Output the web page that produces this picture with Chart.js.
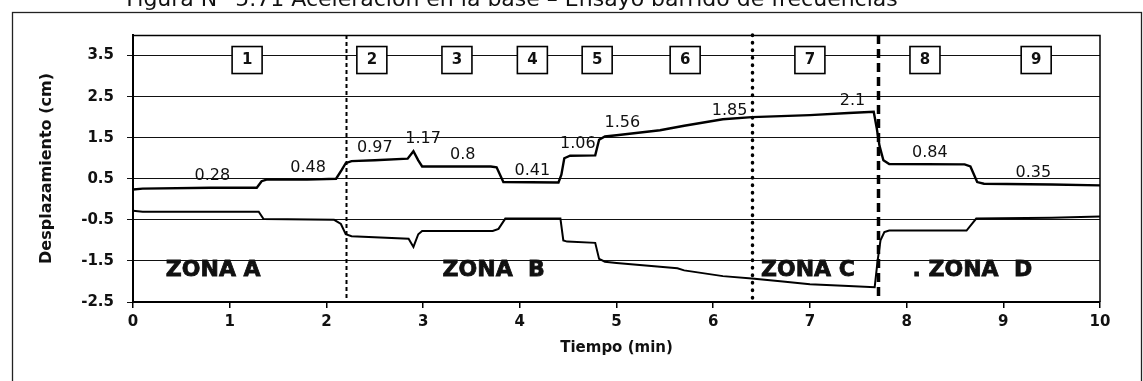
<!DOCTYPE html>
<html lang="es">
<head>
<meta charset="utf-8">
<title>Aceleración en la base – Ensayo barrido de frecuencias</title>
<script src="https://cdn.jsdelivr.net/npm/chart.js@4.4.1/dist/chart.umd.min.js"></script>
<style>
  html, body { margin: 0; padding: 0; background: #fff; }
  canvas { display: block; }
</style>
</head>
<body>
<canvas id="barrido" width="1143" height="381"></canvas>
<script>
const titulo = 'Figura N° 5.71 Aceleración en la base – Ensayo barrido de frecuencias';

// envolvente superior: tiempo (min) / desplazamiento (cm)
const tSup = [0, 0.1, 0.8, 1.28, 1.33, 1.38, 1.8, 2.1, 2.16, 2.2, 2.26, 2.5, 2.84, 2.9, 2.95, 2.99, 3.7, 3.76, 3.83, 4.4, 4.43, 4.46, 4.52, 4.78, 4.82, 4.88, 5.0, 5.45, 5.7, 6.1, 6.4, 7.0, 7.4, 7.66, 7.69, 7.72, 7.76, 7.82, 8.6, 8.66, 8.73, 8.8, 9.5, 10];
const dSup = [0.24, 0.26, 0.28, 0.28, 0.44, 0.48, 0.48, 0.5, 0.72, 0.88, 0.93, 0.95, 0.99, 1.17, 0.95, 0.8, 0.8, 0.78, 0.42, 0.41, 0.6, 1.0, 1.06, 1.07, 1.45, 1.53, 1.56, 1.68, 1.79, 1.95, 2.0, 2.05, 2.1, 2.13, 1.75, 1.3, 0.95, 0.86, 0.85, 0.8, 0.42, 0.38, 0.36, 0.34];

// envolvente inferior
const tInf = [0, 0.1, 1.3, 1.35, 2.08, 2.15, 2.2, 2.26, 2.85, 2.9, 2.95, 2.99, 3.72, 3.78, 3.85, 4.42, 4.45, 4.49, 4.78, 4.82, 4.88, 5.0, 5.63, 5.7, 6.1, 6.4, 6.72, 7.0, 7.4, 7.67, 7.7, 7.73, 7.77, 7.82, 8.62, 8.72, 9.5, 10];
const dInf = [-0.28, -0.3, -0.3, -0.48, -0.5, -0.6, -0.85, -0.9, -0.96, -1.16, -0.85, -0.77, -0.77, -0.72, -0.47, -0.47, -1.0, -1.03, -1.06, -1.45, -1.52, -1.55, -1.68, -1.73, -1.87, -1.93, -2.0, -2.07, -2.11, -2.14, -1.5, -1.0, -0.8, -0.76, -0.76, -0.47, -0.45, -0.42];

const yTicks = [-2.5, -1.5, -0.5, 0.5, 1.5, 2.5, 3.5];
const xTicks = [0, 1, 2, 3, 4, 5, 6, 7, 8, 9, 10];

// amplitudes anotadas sobre la curva
const etiquetaT = [0.82, 1.81, 2.5, 3.0, 3.41, 4.13, 4.6, 5.06, 6.17, 7.44, 8.24, 9.31];
const etiquetaV = [0.28, 0.48, 0.97, 1.17, 0.8, 0.41, 1.06, 1.56, 1.85, 2.1, 0.84, 0.35];

// tramos del ensayo
const tramos = ['1', '2', '3', '4', '5', '6', '7', '8', '9'];
const tramoT = [1.18, 2.47, 3.35, 4.13, 4.8, 5.71, 7.0, 8.19, 9.34];

// límites entre zonas
const limiteT = [2.2, 6.4, 7.7];
const zonas = ['ZONA A', 'ZONA  B', 'ZONA C', '. ZONA  D'];
const zonaT = [0.83, 3.73, 6.98, 8.68];
const zonaV = -1.72;

const puntos = (t, d) => t.map((v, i) => ({ x: v, y: d[i] }));
const FUENTE = '"DejaVu Sans", sans-serif';

const anotaciones = {
  id: 'anotaciones',
  beforeDraw(chart) {
    const ctx = chart.ctx;
    ctx.save();
    ctx.fillStyle = '#fff';
    ctx.fillRect(0, 0, chart.width, chart.height);
    ctx.strokeStyle = '#222';
    ctx.lineWidth = 1.3;
    ctx.strokeRect(12.5, 12.5, chart.width - 14, chart.height + 20);
    ctx.fillStyle = '#111';
    ctx.font = '22px ' + FUENTE;
    ctx.textAlign = 'center';
    ctx.textBaseline = 'alphabetic';
    ctx.fillText(titulo, 512, 6);
    ctx.restore();
  },
  afterDatasetsDraw(chart) {
    const ctx = chart.ctx;
    const x = chart.scales.x, y = chart.scales.y;
    const area = chart.chartArea;
    ctx.save();

    // marco superior y derecho del área de trazado
    ctx.strokeStyle = '#000';
    ctx.lineWidth = 1.5;
    ctx.beginPath();
    ctx.moveTo(area.left, area.top + 0.5);
    ctx.lineTo(area.right, area.top + 0.5);
    ctx.lineTo(area.right, area.bottom);
    ctx.stroke();

    // separadores de zona
    const trazos = [
      { dash: [4, 3], width: 2, cap: 'butt' },
      { dash: [0.5, 7], width: 3.5, cap: 'round' },
      { dash: [9, 5], width: 3.5, cap: 'butt' }
    ];
    limiteT.forEach((t, i) => {
      const px = Math.round(x.getPixelForValue(t)) + 0.5;
      ctx.setLineDash(trazos[i].dash);
      ctx.lineWidth = trazos[i].width;
      ctx.lineCap = trazos[i].cap;
      ctx.beginPath();
      ctx.moveTo(px, area.top);
      ctx.lineTo(px, area.bottom);
      ctx.stroke();
    });
    ctx.setLineDash([]);
    ctx.lineCap = 'butt';

    // recuadros numerados sobre la línea de 3.5
    ctx.font = 'bold 15px ' + FUENTE;
    ctx.textAlign = 'center';
    ctx.textBaseline = 'middle';
    const cy = y.getPixelForValue(3.5) + 4;
    tramos.forEach((txt, i) => {
      const cx = x.getPixelForValue(tramoT[i]);
      ctx.fillStyle = '#fff';
      ctx.fillRect(cx - 15, cy - 13, 30, 27);
      ctx.lineWidth = 1.6;
      ctx.strokeStyle = '#000';
      ctx.strokeRect(cx - 15, cy - 13, 30, 27);
      ctx.fillStyle = '#111';
      ctx.fillText(txt, cx, cy + 1);
    });

    // valores de amplitud
    ctx.font = '16px ' + FUENTE;
    ctx.textBaseline = 'bottom';
    etiquetaV.forEach((v, i) => {
      ctx.fillText(String(v), x.getPixelForValue(etiquetaT[i]), y.getPixelForValue(v) - 4);
    });

    // nombres de zona
    ctx.font = 'bold 22px ' + FUENTE;
    ctx.textBaseline = 'middle';
    ctx.lineWidth = 0.8;
    ctx.strokeStyle = '#111';
    zonas.forEach((txt, i) => {
      const px = x.getPixelForValue(zonaT[i]);
      const py = y.getPixelForValue(zonaV);
      ctx.fillText(txt, px, py);
      ctx.strokeText(txt, px, py);
    });
    ctx.restore();
  }
};

new Chart(document.getElementById('barrido'), {
  type: 'line',
  data: {
    datasets: [
      { data: puntos(tSup, dSup), borderColor: '#000', borderWidth: 2.4 },
      { data: puntos(tInf, dInf), borderColor: '#000', borderWidth: 2 }
    ]
  },
  options: {
    responsive: false,
    animation: false,
    devicePixelRatio: 1,
    layout: { padding: { left: 0, top: 35, right: 43, bottom: 0 } },
    elements: { point: { radius: 0 }, line: { tension: 0 } },
    plugins: { legend: { display: false }, tooltip: { enabled: false } },
    scales: {
      x: {
        type: 'linear',
        min: 0,
        max: 10,
        afterBuildTicks: s => { s.ticks = xTicks.map(v => ({ value: v })); },
        afterFit: s => { s.height = 79; },
        grid: { drawOnChartArea: false, drawTicks: true, tickLength: 6, color: '#000', lineWidth: 1.5 },
        border: { display: true, color: '#000', width: 2 },
        ticks: { color: '#111', padding: 5, maxRotation: 0, font: { family: 'DejaVu Sans', size: 15, weight: 'bold' } },
        title: { display: true, text: 'Tiempo (min)', color: '#111', padding: { bottom: 24 }, font: { family: 'DejaVu Sans', size: 15, weight: 'bold' } }
      },
      y: {
        min: -2.5,
        max: 4,
        afterBuildTicks: s => { s.ticks = yTicks.map(v => ({ value: v })); },
        afterFit: s => { s.width = 133; },
        grid: { drawTicks: true, tickLength: 6, color: '#111', lineWidth: 1 },
        border: { display: true, color: '#000', width: 2 },
        ticks: { color: '#111', padding: 13, callback: v => v.toFixed(1), font: { family: 'DejaVu Sans', size: 15, weight: 'bold' } },
        title: { display: true, text: 'Desplazamiento (cm)', color: '#111', padding: { top: 37 }, font: { family: 'DejaVu Sans', size: 16, weight: 'bold' } }
      }
    }
  },
  plugins: [anotaciones]
});
</script>
</body>
</html>
